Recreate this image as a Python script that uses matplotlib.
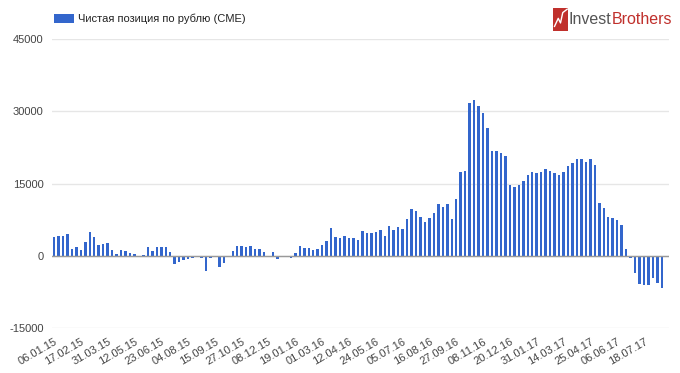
#!/usr/bin/env python3

import numpy as np
import matplotlib.pyplot as plt
from matplotlib.patches import Rectangle

plt.rcParams['font.family'] = ['Liberation Sans', 'DejaVu Sans']

# weekly net position, starting 06.01.15
net_position = [
    3900, 4100, 4200, 4500, 1400, 1800, 1100, 2800, 5000, 3900,
    2200, 2500, 2600, 1200, 400, 1100, 1000, 500, 400, 0,
    150, 1900, 900, 1900, 1900, 1800, 700, -1700, -1200, -900,
    -700, -450, -300, -400, -3250, -550, -300, -2300, -1600, 0,
    1000, 2000, 2000, 1900, 2100, 1300, 1400, 700, 0, 700,
    -750, -350, -300, -450, 600, 2000, 1700, 1700, 1100, 1450,
    2300, 3050, 5700, 3900, 3600, 4000, 3700, 3700, 3300, 5050,
    4800, 4800, 4900, 5300, 4000, 6150, 5300, 5950, 5600, 7650,
    9800, 9350, 8100, 6950, 7850, 8900, 10700, 10150, 10700, 7650,
    11850, 17300, 17500, 31800, 32350, 31100, 29550, 26500, 21800, 21850,
    21300, 20750, 14600, 14300, 14650, 15550, 16700, 17400, 17150, 17400,
    18100, 17550, 17150, 16700, 17300, 18550, 19300, 20000, 20000, 19500,
    20100, 18900, 10950, 9850, 8050, 7750, 7500, 6300, 1300, -500,
    -3600, -5800, -6100, -6100, -4600, -5700, -6600,
]

tick_labels = [
    '06.01.15', '17.02.15', '31.03.15', '12.05.15', '23.06.15', '04.08.15',
    '15.09.15', '27.10.15', '08.12.15', '19.01.16', '01.03.16', '12.04.16',
    '24.05.16', '05.07.16', '16.08.16', '27.09.16', '08.11.16', '20.12.16',
    '31.01.17', '14.03.17', '25.04.17', '06.06.17', '18.07.17',
]
label_step = 6

x = np.arange(len(net_position))

fig = plt.figure(figsize=(6.8, 3.73), dpi=100)
ax = fig.add_axes([52 / 680, 1 - 328 / 373, 617 / 680, 289 / 373])

bars = ax.bar(x, net_position, width=0.55, color='#3366cc',
              label='Чистая позиция по рублю (CME)', zorder=3)

ax.set_xlim(-0.45, 137.6)
ax.set_ylim(-15000, 45000)
ax.set_yticks([-15000, 0, 15000, 30000, 45000])
ax.set_yticklabels(['-15000', '0', '15000', '30000', '45000'])
ax.grid(axis='y', color='#e6e6e6', linewidth=1, zorder=0)
ax.axhline(0, color='#999999', linewidth=1, zorder=4)

ax.set_xticks(x[::label_step][:len(tick_labels)])
ax.set_xticklabels(tick_labels, rotation=30, ha='right',
                   rotation_mode='anchor')
ax.tick_params(axis='both', length=0, labelsize=8, colors='#444444')
ax.tick_params(axis='x', pad=6)
ax.tick_params(axis='y', pad=6)
for s in ax.spines.values():
    s.set_visible(False)

fig.legend(handles=[bars], loc='upper left',
           bbox_to_anchor=(44 / 680, 1 - 4 / 373), frameon=False,
           fontsize=8, handlelength=1.8, handleheight=0.9,
           handletextpad=0.4, labelcolor='#222222')

# logo
logo = fig.add_axes([553 / 680, 1 - 31 / 373, 15 / 680, 23 / 373])
logo.add_patch(Rectangle((0, 0), 1, 1, color='#c0302c'))
logo.plot([0.1, 0.35, 0.5, 0.65, 0.95], [0.2, 0.55, 0.35, 0.8, 0.95],
          color='white', linewidth=1)
logo.set_xlim(0, 1)
logo.set_ylim(0, 1)
logo.axis('off')
t1 = fig.text(569 / 680, 1 - 19 / 373, 'Invest', fontsize=11.5,
              color='#555555', va='center', ha='left')
fig.canvas.draw()
bb = t1.get_window_extent()
fig.text(bb.x1 / 680, 1 - 19 / 373, 'Brothers', fontsize=11.5,
         color='#c0302c', va='center', ha='left')

fig.savefig('out.png', dpi=100)
